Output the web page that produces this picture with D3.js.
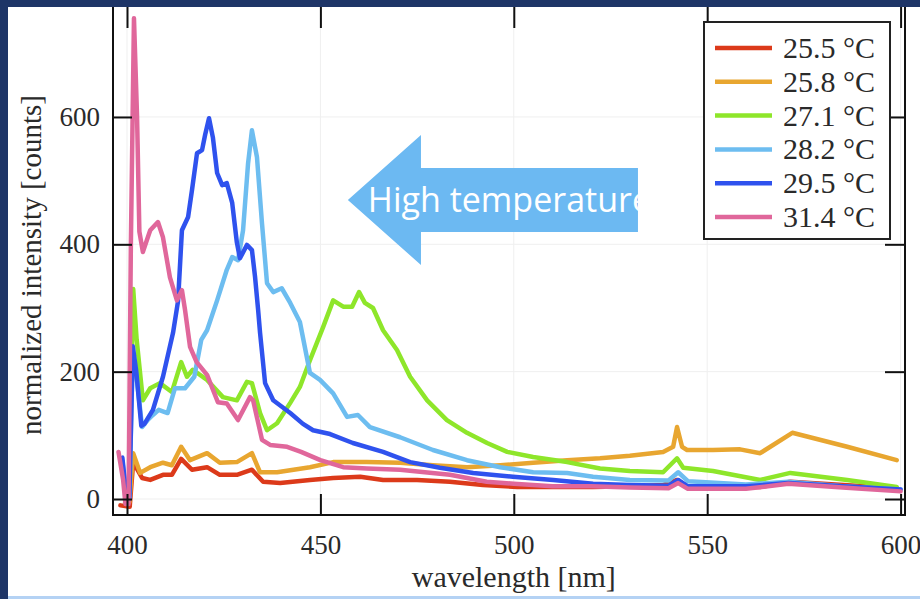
<!DOCTYPE html>
<html lang="en">
<head>
<meta charset="UTF-8">
<title>Spectra</title>
<script src="https://cdn.jsdelivr.net/npm/d3@7"></script>
<style>
  body { margin: 0; background: #1e3567; }
  svg { display: block; }
</style>
</head>
<body>
<svg id="chart" width="920" height="599"></svg>
<script>
// tick values
const xTicks = [400, 450, 500, 550, 600]
const yTicks = [0, 200, 400, 600]

// legend
const seriesNames = ['25.5 °C', '25.8 °C', '27.1 °C', '28.2 °C', '29.5 °C', '31.4 °C']
const seriesColors = ['#dc3a1a', '#e8a630', '#8ee62a', '#6dbdf0', '#2f52ee', '#e0679b']

// [wavelength nm, counts]
const t255 = [[398.3, -10], [400.7, -12], [401.6, 58], [403.9, 33], [406, 30], [409.3, 38], [411.6, 38], [414, 63], [416.8, 46], [420.7, 50], [424, 38], [428.4, 38], [432.3, 46], [435.2, 27], [439.6, 25], [447.3, 30], [453.3, 33], [460.3, 35], [466.2, 30], [475, 30], [483.5, 27], [492, 22], [500.9, 19], [509.4, 19], [520.5, 19], [530, 20], [538.6, 22], [542.2, 30], [544.8, 20], [563.7, 19], [571.5, 27], [599, 17]]
const t258 = [[399.5, -5], [400.6, -5], [401.6, 72], [403.4, 41], [406, 50], [409.3, 57], [411.6, 53], [414, 82], [416.3, 61], [420.7, 72], [424, 57], [428.4, 58], [432.3, 72], [434.4, 42], [438.8, 42], [447.3, 50], [453.3, 58], [462, 58], [470.6, 57], [479.1, 53], [487.9, 50], [496.5, 53], [505, 57], [513.8, 61], [522.3, 64], [530, 68], [538.6, 74], [541.2, 82], [542.2, 113], [543.5, 82], [544.8, 77], [551.5, 77], [558.5, 78], [563.7, 72], [572, 104], [586.2, 82], [599, 61]]
const t271 = [[399.5, 0], [400.5, 0], [401.6, 330], [402.5, 250], [404.1, 155], [406, 174], [408.5, 182], [411.6, 168], [414, 215], [415.5, 192], [417, 203], [420.7, 187], [424.8, 160], [428.4, 155], [431, 184], [432.3, 182], [434.4, 135], [436.2, 108], [438.8, 119], [442.2, 151], [444.7, 176], [447.3, 218], [450.7, 270], [453.3, 312], [455.9, 302], [458.2, 302], [460, 325], [461.5, 308], [463.6, 300], [466.2, 265], [469.8, 234], [473.2, 192], [477.6, 155], [482.7, 124], [487.9, 104], [493.1, 88], [498.3, 74], [505, 66], [513.8, 58], [522.3, 48], [530, 44], [538.6, 42], [542.2, 64], [543.8, 49], [551.5, 44], [563.7, 30], [571.5, 41], [586.2, 30], [599, 19]]
const t282 = [[398.8, 60], [400, -5], [400.6, 0], [401.5, 230], [402.5, 190], [403.9, 113], [405.5, 125], [406.7, 132], [408.2, 140], [410.5, 135], [412.4, 174], [415, 174], [417.4, 192], [419.2, 250], [420.7, 265], [423.3, 312], [425.8, 360], [427.2, 380], [428.7, 375], [430, 422], [431.3, 527], [432.3, 579], [433.6, 537], [434.9, 433], [436.2, 339], [437.8, 325], [440, 331], [442.2, 308], [444.7, 278], [447.3, 198], [449.9, 187], [453.3, 166], [456.9, 129], [459.7, 132], [462.8, 113], [470.6, 97], [479.1, 77], [487.9, 61], [496.5, 50], [505, 42], [513.8, 41], [520.5, 35], [530, 30], [540, 29], [542.5, 42], [545, 28], [560, 23], [571, 27], [585, 20], [600, 15]]
const t295 = [[398.8, 65], [400, -5], [400.6, 0], [401.5, 240], [402.4, 200], [403.7, 115], [404.5, 118], [406.7, 140], [409.3, 192], [411.9, 261], [413.2, 311], [414.2, 422], [415.8, 443], [416.8, 485], [418.1, 543], [419.4, 548], [420.2, 572], [421.2, 598], [422.2, 568], [423.3, 512], [424.6, 493], [425.8, 496], [427.2, 465], [428.4, 403], [429.2, 378], [431, 399], [432.3, 391], [433.1, 349], [433.9, 297], [434.4, 261], [435.7, 182], [437.8, 155], [442.2, 135], [445.5, 118], [448.1, 108], [452.5, 102], [458.4, 88], [466.2, 74], [473.2, 58], [480.9, 49], [489.5, 41], [499.8, 35], [510.2, 30], [520.5, 24], [530, 22], [540, 21], [542.5, 30], [545, 20], [560, 20], [571, 25], [585, 20], [600, 15]]
const t314 = [[397.8, 74], [399, 30], [399.6, -8], [400.4, -8], [401, 400], [401.8, 755], [402.6, 600], [403.2, 420], [404.1, 388], [406, 422], [408, 435], [409.3, 411], [411.1, 348], [412.9, 312], [414.2, 328], [415, 297], [416.3, 239], [418, 215], [420.7, 195], [423.5, 152], [425.8, 150], [428.7, 124], [431.8, 160], [432.6, 155], [434.9, 93], [437, 85], [441.4, 82], [445, 74], [450, 61], [455.9, 50], [462, 48], [470.6, 46], [477, 42], [483.5, 38], [493, 27], [500, 24], [510, 20], [520, 20], [530, 18], [540, 17], [542.5, 25], [545, 16], [560, 16], [571, 24], [585, 18], [600, 12]]

const series = [t255, t258, t271, t282, t295, t314]

// annotation arrow, in data units
const arrowTip = [457.1, 469.6]
const arrowHeadX = 476
const arrowEndX = 532.1
const arrowHeadY = [571.7, 367.5]
const arrowShaftY = [519.9, 419.4]
const arrowText = 'High temperature'

const W = 920, H = 599
const plot = { left: 113, right: 905, top: 7, bottom: 515 }

const svg = d3.select('#chart')

// slide background + white panel
svg.append('rect').attr('width', W).attr('height', H).attr('fill', '#1e3567')
svg.append('rect').attr('x', 8).attr('y', 7).attr('width', W - 8).attr('height', 589).attr('fill', '#ffffff')
svg.append('rect').attr('x', 8).attr('y', 596).attr('width', W - 8).attr('height', 3).attr('fill', '#b4d2f4')

const x = d3.scaleLinear().domain([396.38, 601.14]).range([plot.left, plot.right])
const y = d3.scaleLinear().domain([-25.1, 772.7]).range([plot.bottom, plot.top])

// faint grid
const grid = svg.append('g').attr('stroke', '#efefef').attr('stroke-width', 1)
grid.selectAll('.gx').data(xTicks).join('line')
    .attr('x1', d => x(d)).attr('x2', d => x(d))
    .attr('y1', plot.top).attr('y2', plot.bottom)
grid.selectAll('.gy').data(yTicks).join('line')
    .attr('y1', d => y(d)).attr('y2', d => y(d))
    .attr('x1', plot.left).attr('x2', plot.right)

// arrow annotation
const arrowPts = [
    [x(arrowTip[0]), y(arrowTip[1])],
    [x(arrowHeadX), y(arrowHeadY[0])],
    [x(arrowHeadX), y(arrowShaftY[0])],
    [x(arrowEndX), y(arrowShaftY[0])],
    [x(arrowEndX), y(arrowShaftY[1])],
    [x(arrowHeadX), y(arrowShaftY[1])],
    [x(arrowHeadX), y(arrowHeadY[1])]
]
svg.append('defs').append('clipPath').attr('id', 'arrowClip')
    .append('polygon').attr('points', arrowPts.map(p => p.join(',')).join(' '))
svg.append('polygon').attr('points', arrowPts.map(p => p.join(',')).join(' '))
    .attr('fill', '#6cb9f2')
svg.append('g').attr('clip-path', 'url(#arrowClip)')
    .append('text')
    .attr('x', x(arrowTip[0]) + 20)
    .attr('y', y(arrowTip[1]) + 12)
    .attr('fill', '#ffffff')
    .attr('font-family', '"Open Sans", sans-serif')
    .attr('font-size', 34)
    .text(arrowText)

// curves
const line = d3.line().x(d => x(d[0])).y(d => y(d[1]))
svg.append('g').selectAll('path').data(series).join('path')
    .attr('d', line)
    .attr('fill', 'none')
    .attr('stroke', (d, i) => seriesColors[i])
    .attr('stroke-width', 4.5)
    .attr('stroke-linejoin', 'round')
    .attr('stroke-linecap', 'round')

// axes (ticks point inward)
const fontSerif = '"Liberation Serif", "Times New Roman", serif'
function styleAxis(g) {
    g.select('.domain').remove()
    g.selectAll('.tick line').attr('stroke', '#111').attr('stroke-width', 2)
    g.selectAll('.tick text').attr('fill', '#2a2a2a').attr('font-family', fontSerif).attr('font-size', 27)
}
svg.append('g').attr('transform', `translate(0,${plot.bottom})`)
    .call(d3.axisBottom(x).tickValues(xTicks).tickSize(-21).tickPadding(20))
    .call(styleAxis)
svg.append('g').attr('transform', `translate(0,${plot.top})`)
    .call(d3.axisTop(x).tickValues(xTicks).tickSize(-21).tickFormat(''))
    .call(styleAxis)
svg.append('g').attr('transform', `translate(${plot.left},0)`)
    .call(d3.axisLeft(y).tickValues(yTicks).tickSize(-19).tickPadding(13))
    .call(styleAxis)
svg.append('g').attr('transform', `translate(${plot.right},0)`)
    .call(d3.axisRight(y).tickValues(yTicks).tickSize(-20).tickFormat(''))
    .call(styleAxis)

// frame (top hidden under slide edge)
svg.append('path')
    .attr('d', `M${plot.left},${plot.top} V${plot.bottom} H${plot.right} V${plot.top}`)
    .attr('fill', 'none').attr('stroke', '#111').attr('stroke-width', 2)

// axis titles
svg.append('text')
    .attr('x', (x(400) + x(600)) / 2).attr('y', 587)
    .attr('text-anchor', 'middle')
    .attr('font-family', fontSerif).attr('font-size', 30).attr('fill', '#2a2a2a')
    .text('wavelength [nm]')
svg.append('text')
    .attr('transform', `translate(41,${265}) rotate(-90)`)
    .attr('text-anchor', 'middle')
    .attr('font-family', fontSerif).attr('font-size', 29).attr('fill', '#2a2a2a')
    .text('normalized intensity [counts]')

// legend
const legend = svg.append('g').attr('transform', 'translate(704,22)')
legend.append('rect').attr('width', 186).attr('height', 217)
    .attr('fill', '#fff').attr('stroke', '#222').attr('stroke-width', 2)
const rows = legend.selectAll('.row').data(seriesNames).join('g')
    .attr('transform', (d, i) => `translate(0,${26 + i * 33.8})`)
rows.append('line').attr('x1', 11).attr('x2', 68)
    .attr('stroke', (d, i) => seriesColors[i]).attr('stroke-width', 4.5)
rows.append('text').attr('x', 79).attr('y', 10)
    .attr('font-family', fontSerif).attr('font-size', 30).attr('fill', '#2a2a2a')
    .text(d => d)
</script>
</body>
</html>
